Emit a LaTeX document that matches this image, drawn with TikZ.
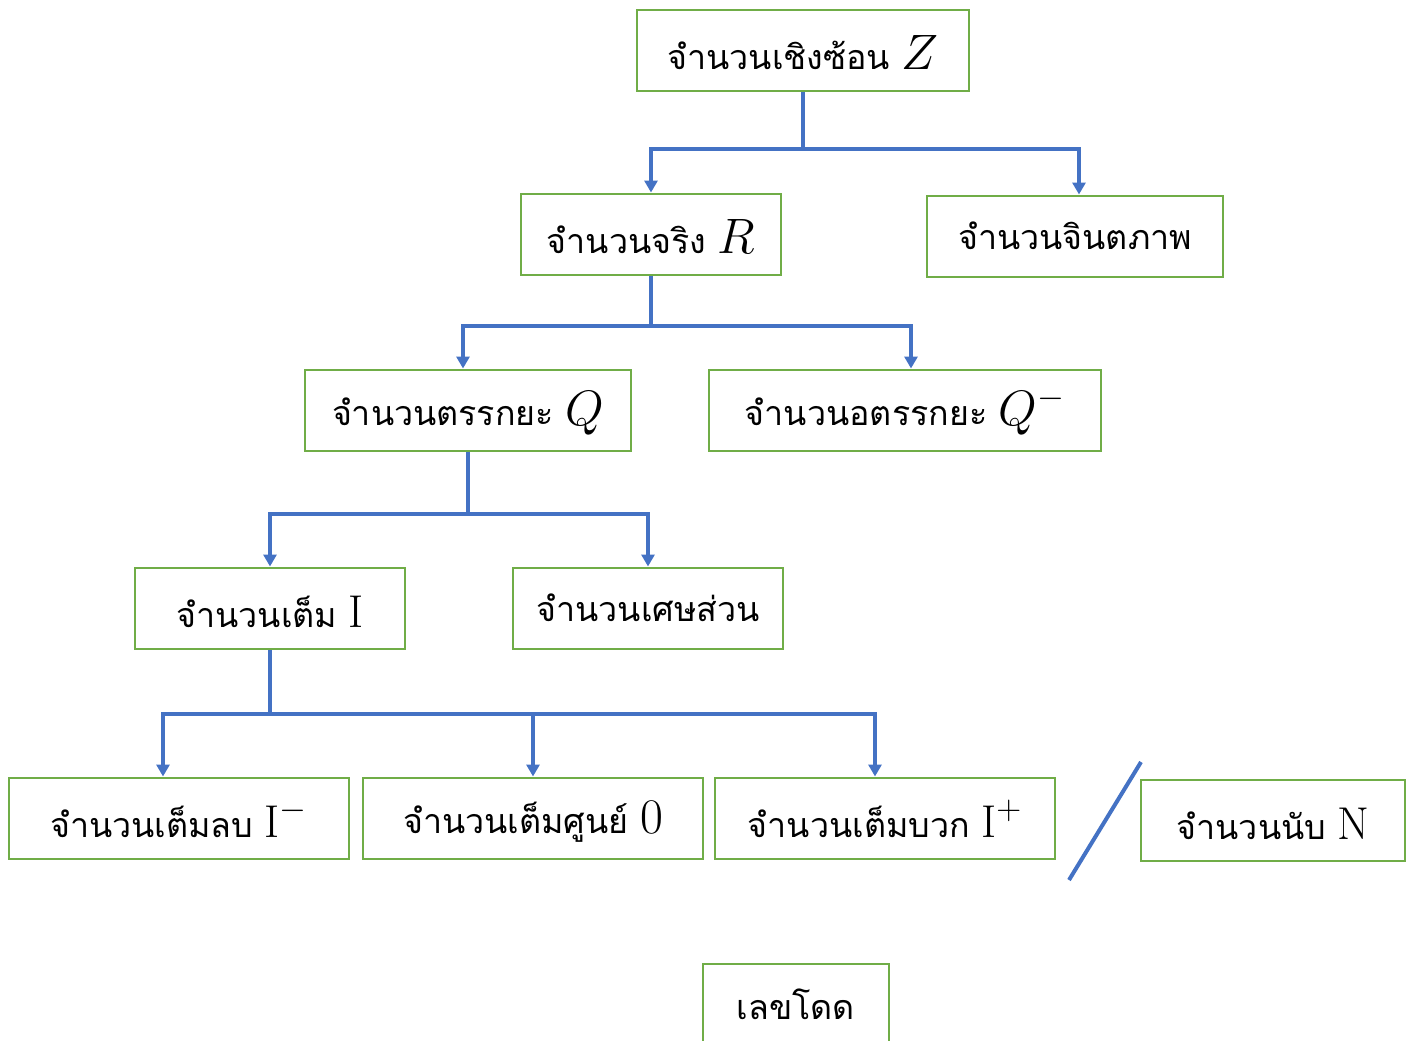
\documentclass[tikz,border=0pt]{standalone}
\usepackage{fontspec}
\newfontfamily\thai[Script=Thai]{Loma}
\usetikzlibrary{arrows.meta}
\definecolor{boxgreen}{RGB}{112,173,71}
\definecolor{linkblue}{RGB}{68,114,196}
\newcommand{\setsym}[1]{{\fontsize{23}{25}\selectfont\rule{0pt}{20pt}$#1$}}
\tikzset{
  numbox/.style={draw=boxgreen, line width=1pt, minimum height=40.5pt, inner sep=0pt,
    font=\thai\fontsize{17}{20}\selectfont},
  link/.style={draw=linkblue, line width=2pt},
  down/.style={link, -{Triangle[width=6.5pt,length=6pt]}}
}
\begin{document}
\begin{tikzpicture}[x=0.5pt, y=-0.5pt]
			\useasboundingbox (0,0) rectangle (1413,1040);
			% the number sets
			\node[numbox, minimum width=166pt] (z) at (803,50) {จำนวนเชิงซ้อน \setsym{Z}};
			\node[numbox, minimum width=130pt] (r) at (651,234) {จำนวนจริง \setsym{R}};
			\node[numbox, minimum width=148pt] (im) at (1075,236) {จำนวนจินตภาพ};
			\node[numbox, minimum width=163pt] (q) at (468,410) {จำนวนตรรกยะ \setsym{Q}};
			\node[numbox, minimum width=196pt] (qi) at (905,410) {จำนวนอตรรกยะ \setsym{Q^{-}}};
			\node[numbox, minimum width=135pt] (i) at (270,608) {จำนวนเต็ม \setsym{\mathrm{I}}};
			\node[numbox, minimum width=135pt] (fr) at (648,608) {จำนวนเศษส่วน};
			\node[numbox, minimum width=170pt] (ineg) at (179,818) {จำนวนเต็มลบ \setsym{\mathrm{I}^{-}}};
			\node[numbox, minimum width=170pt] (izero) at (533,818) {จำนวนเต็มศูนย์ \setsym{0}};
			\node[numbox, minimum width=170pt] (ipos) at (885,818) {จำนวนเต็มบวก \setsym{\mathrm{I}^{+}}};
			\node[numbox, minimum width=132pt] (n) at (1273,820) {จำนวนนับ \setsym{\mathrm{N}}};
			\node[numbox, minimum width=93pt] (dig) at (796,1004) {เลขโดด};
			% branches
			\draw[link] (z.south) -- ++(0,57) coordinate (zb);
			\draw[down] (zb) -| (r.north);
			\draw[down] (zb) -| ([xshift=2pt]im.north);
			\draw[link] (r.south) -- ++(0,50) coordinate (rb);
			\draw[down] (rb) -| ([xshift=-2.5pt]q.north);
			\draw[down] (rb) -| ([xshift=3pt]qi.north);
			\draw[link] (q.south) -- ++(0,62) coordinate (qb);
			\draw[down] (qb) -| (i.north);
			\draw[down] (qb) -| (fr.north);
			\draw[link] (i.south) -- ++(0,64) coordinate (ib);
			\draw[down] (ib) -| ([xshift=-8pt]ineg.north);
			\draw[down] (ib) -| (izero.north);
			\draw[down] (ib) -| ([xshift=-5pt]ipos.north);
			% divider before N
			\draw[link] (1069,880) -- (1141,762);
\end{tikzpicture}
\end{document}
